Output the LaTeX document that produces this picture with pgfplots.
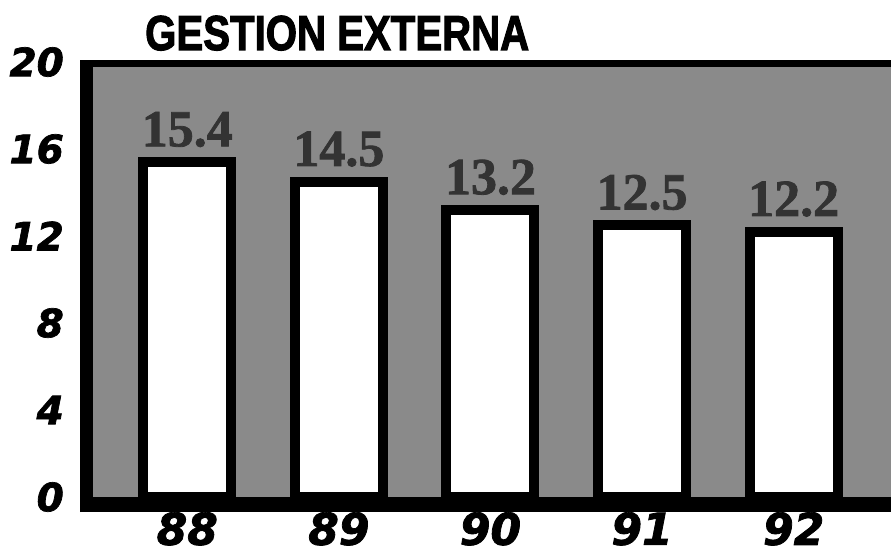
\documentclass[border=0pt]{standalone}
\usepackage{fontspec}
\setmainfont{Liberation Sans}[BoldFeatures={FakeBold=2.5}]
\newfontfamily\tickfont{DejaVu Sans}[BoldItalicFeatures={FakeBold=1.8}]
\newfontfamily\valfont{Liberation Serif}[BoldFeatures={FakeBold=1.5}]
\usepackage{pgfplots}
\pgfplotsset{compat=1.18}

\begin{document}
\begin{tikzpicture}
\useasboundingbox (0,0) rectangle (891pt,557pt);
\begin{axis}[
    at={(93pt,60pt)}, anchor=south west,
    scale only axis,
    width=798pt, height=435pt,
    xmin=-0.622, xmax=4.642,
    ymin=0, ymax=20,
    axis line style={draw=none},
    axis background/.style={fill=black!46},
    tick style={draw=none},
    xtick={0,1,2,3,4},
    xticklabels={88,89,90,91,92},
    ytick={0,4,8,12,16,20},
    yticklabels={0,4,8,12,16,20},
    xticklabel style={font=\tickfont\bfseries\itshape\fontsize{44}{44}\selectfont,
        anchor=north, inner sep=0pt, yshift=-15pt},
    yticklabel style={font=\tickfont\bfseries\itshape\fontsize{39}{39}\selectfont,
        anchor=east, inner sep=0pt, xshift=-29pt},
    clip=false,
]
% bars with value labels
\addplot[ybar, bar width=88pt, fill=white, draw=black, line width=10pt,
    point meta=explicit symbolic,
    nodes near coords,
    every node near coord/.style={anchor=south, inner sep=0pt, yshift=10pt,
        font=\valfont\bfseries\fontsize{52}{52}\selectfont, text=black!80}]
    coordinates {
    (0,15.4) [15.4]
    (1,14.5) [14.5]
    (2,13.2) [13.2]
    (3,12.5) [12.5]
    (4,12.2) [12.2]
};
\end{axis}
% thick frame: left, bottom, top
\draw[line width=13pt] (86.5pt,45pt) -- (86.5pt,497pt);
\draw[line width=15pt] (80pt,52.5pt) -- (891pt,52.5pt);
\draw[line width=7pt] (80pt,493.5pt) -- (891pt,493.5pt);
% title
\node[anchor=base west, inner sep=0pt] at (145pt,507pt)
    {\scalebox{0.82}[1]{\bfseries\fontsize{49}{49}\selectfont GESTION EXTERNA}};
\end{tikzpicture}
\end{document}
